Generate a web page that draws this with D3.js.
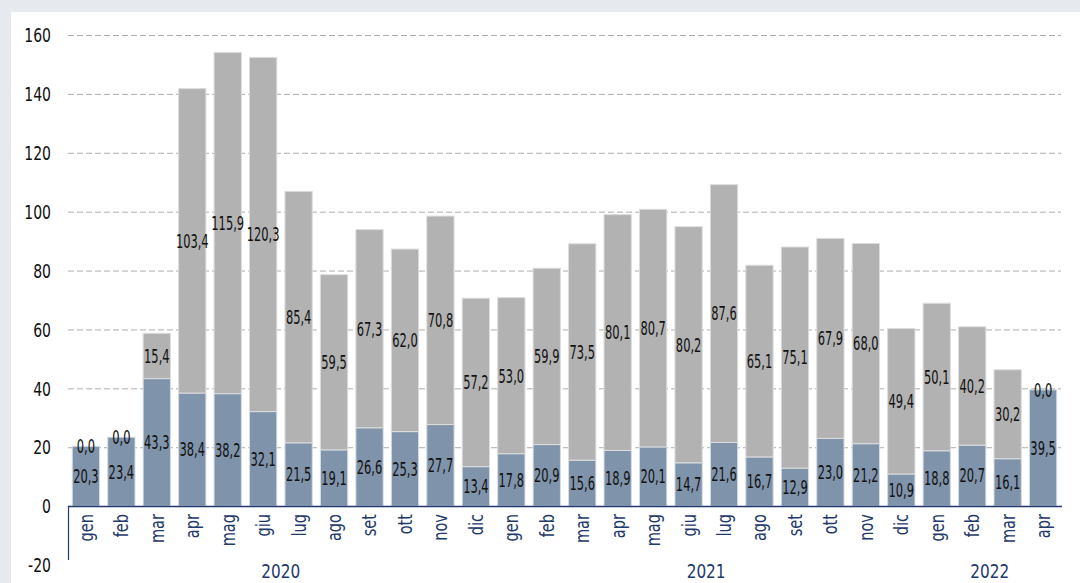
<!DOCTYPE html>
<html>
<head>
<meta charset="utf-8">
<script src="https://cdn.jsdelivr.net/npm/d3@7/dist/d3.min.js"></script>
<style>
    body { margin: 0; background: #e6e9ee; }
    svg { display: block; }
</style>
</head>
<body>
<svg id="chart" width="1080" height="583"></svg>
<script>
// months, one per bar
var months = ["gen", "feb", "mar", "apr", "mag", "giu", "lug", "ago", "set", "ott", "nov", "dic",
    "gen", "feb", "mar", "apr", "mag", "giu", "lug", "ago", "set", "ott", "nov", "dic",
    "gen", "feb", "mar", "apr"];
var years = ["2020", "2021", "2022"];
var yearStart = [0, 12, 24];
var yearCount = [12, 12, 4];

// blue (bottom) and grey (top) series
var blueValues = [20.3, 23.4, 43.3, 38.4, 38.2, 32.1, 21.5, 19.1, 26.6, 25.3, 27.7, 13.4,
    17.8, 20.9, 15.6, 18.9, 20.1, 14.7, 21.6, 16.7, 12.9, 23.0, 21.2, 10.9,
    18.8, 20.7, 16.1, 39.5];
var greyValues = [0.0, 0.0, 15.4, 103.4, 115.9, 120.3, 85.4, 59.5, 67.3, 62.0, 70.8, 57.2,
    53.0, 59.9, 73.5, 80.1, 80.7, 80.2, 87.6, 65.1, 75.1, 67.9, 68.0, 49.4,
    50.1, 40.2, 30.2, 0.0];
var yTicks = [-20, 0, 20, 40, 60, 80, 100, 120, 140, 160];

var font = "'DejaVu Sans Condensed', 'DejaVu Sans', sans-serif";
var navy = "#1f3a6b";

var svg = d3.select("#chart");

// white panel
svg.append("rect")
    .attr("x", 11).attr("y", 12)
    .attr("width", 1080 - 11).attr("height", 583 - 12)
    .attr("fill", "#ffffff");

var x = d3.scaleBand()
    .domain(d3.range(months.length))
    .range([68, 1061])
    .paddingInner(0.23)
    .paddingOuter(0.12);

var y = d3.scaleLinear()
    .domain([-20, 160])
    .range([565, 35]);

// narrow text: the original face is tall and condensed
function squeeze(sx) {
    return function(sel) {
        sel.attr("transform", function() {
            var t = d3.select(this);
            return "translate(" + t.attr("data-x") + "," + t.attr("data-y") + ") scale(" + sx + ",1)";
        });
    };
}

// grid
svg.append("g")
    .selectAll("line")
    .data(yTicks.filter(function(d) { return d > 0; }))
    .enter()
    .append("line")
    .attr("x1", 68).attr("x2", 1061)
    .attr("y1", function(d) { return y(d) + 0.5; })
    .attr("y2", function(d) { return y(d) + 0.5; })
    .attr("stroke", "#adadad")
    .attr("stroke-width", 1)
    .attr("stroke-dasharray", "6,3");

// y tick labels
svg.append("g")
    .selectAll("text")
    .data(yTicks)
    .enter()
    .append("text")
    .attr("data-x", 51)
    .attr("data-y", function(d) { return y(d); })
    .attr("dy", "0.36em")
    .attr("text-anchor", "end")
    .attr("font-family", font)
    .attr("font-size", 20)
    .attr("fill", "#111")
    .text(function(d) { return d; })
    .call(squeeze(0.78));

// bars
var bars = svg.append("g");
bars.selectAll("rect.blue")
    .data(blueValues)
    .enter()
    .append("rect")
    .attr("class", "blue")
    .attr("x", function(d, i) { return x(i); })
    .attr("width", x.bandwidth())
    .attr("y", function(d) { return y(d); })
    .attr("height", function(d) { return y(0) - y(d); })
    .attr("fill", "#7f93aa")
    .attr("stroke", "#d6dce3")
    .attr("stroke-width", 1);

bars.selectAll("rect.grey")
    .data(greyValues)
    .enter()
    .append("rect")
    .attr("class", "grey")
    .attr("x", function(d, i) { return x(i); })
    .attr("width", x.bandwidth())
    .attr("y", function(d, i) { return y(blueValues[i] + d); })
    .attr("height", function(d, i) { return y(blueValues[i]) - y(blueValues[i] + d); })
    .attr("fill", "#b2b2b2")
    .attr("stroke", "#dddddd")
    .attr("stroke-width", 1);

// value labels
function fmt(v) { return v.toFixed(1).replace(".", ","); }

var labels = svg.append("g")
    .attr("font-family", font)
    .attr("font-size", 19)
    .attr("fill", "#111")
    .attr("text-anchor", "middle");

labels.selectAll("text.blue")
    .data(blueValues)
    .enter()
    .append("text")
    .attr("data-x", function(d, i) { return x(i) + x.bandwidth() / 2; })
    .attr("data-y", function(d) { return y(d / 2); })
    .attr("dy", "0.36em")
    .text(fmt)
    .call(squeeze(0.67));

labels.selectAll("text.grey")
    .data(greyValues)
    .enter()
    .append("text")
    .attr("data-x", function(d, i) { return x(i) + x.bandwidth() / 2; })
    .attr("data-y", function(d, i) { return y(blueValues[i] + d / 2); })
    .attr("dy", "0.36em")
    .text(fmt)
    .call(squeeze(0.67));

// axis lines
svg.append("line")
    .attr("x1", 68).attr("x2", 1062)
    .attr("y1", y(0) + 0.5).attr("y2", y(0) + 0.5)
    .attr("stroke", navy).attr("stroke-width", 1.5);
svg.append("line")
    .attr("x1", 68.5).attr("x2", 68.5)
    .attr("y1", y(0)).attr("y2", 560)
    .attr("stroke", navy).attr("stroke-width", 1.2);

// month labels, rotated
svg.append("g")
    .selectAll("text")
    .data(months)
    .enter()
    .append("text")
    .attr("transform", function(d, i) {
        return "translate(" + (x(i) + x.bandwidth() / 2) + "," + 514 + ") rotate(-90) scale(0.9,1.1)";
    })
    .attr("text-anchor", "end")
    .attr("dy", "0.35em")
    .attr("font-family", font)
    .attr("font-size", 18)
    .attr("fill", navy)
    .text(function(d) { return d; });

// year labels
var step = x.step();
svg.append("g")
    .selectAll("text")
    .data(years)
    .enter()
    .append("text")
    .attr("data-x", function(d, i) { return 68 + (yearStart[i] + yearCount[i] / 2) * step; })
    .attr("data-y", 578)
    .attr("text-anchor", "middle")
    .attr("font-family", font)
    .attr("font-size", 20)
    .attr("fill", navy)
    .text(function(d) { return d; })
    .call(squeeze(0.85));
</script>
</body>
</html>
